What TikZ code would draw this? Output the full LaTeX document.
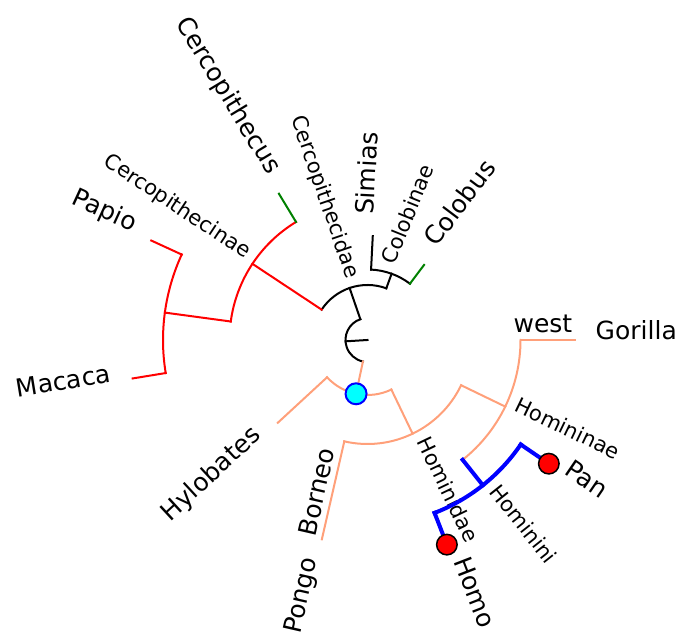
\documentclass[tikz,border=0pt]{standalone}
\usepackage{fontspec}
\setmainfont{DejaVu Sans}
\usetikzlibrary{calc}
\definecolor{salm}{RGB}{255,160,122}
\definecolor{grn}{RGB}{0,128,0}
\definecolor{cyn}{RGB}{0,255,255}
\begin{document}
\begin{tikzpicture}[x=1pt,y=1pt,
  brk/.style={line width=2pt,line cap=rect,black},
  brr/.style={line width=2pt,line cap=rect,red},
  brg/.style={line width=2pt,line cap=rect,grn},
  brs/.style={line width=2pt,line cap=rect,salm},
  brb/.style={line width=4pt,line cap=rect,blue},
  leaf/.style={font=\fontsize{25}{30}\selectfont,inner sep=0pt},
  inl/.style={font=\fontsize{21}{25}\selectfont,inner sep=0pt},
  redc/.style={circle,draw=black,fill=red,line width=1.5pt,minimum size=20.5pt,inner sep=0pt},
  cync/.style={circle,draw=blue,fill=cyn,line width=2pt,minimum size=21pt,inner sep=0pt}]
\useasboundingbox (0,0) rectangle (678,636);
\begin{scope}[shift={(367.5,296)}]
% ---- labels ----
\node[leaf,anchor=base east,rotate=-58.8] (cercopithecus) at (121.2:192) {Cercopithecus};
\node[leaf,anchor=base east,rotate=-24.7] (papio) at (155.3:259) {Papio};
\node[leaf,anchor=base east,rotate=9.3] (macaca) at (189.3:259) {Macaca};
\node[leaf,anchor=base west,rotate=87.1] (simias) at (87.1:125) {Simias};
\node[leaf,anchor=base west,rotate=53] (colobus) at (53:115) {Colobus};
\node[leaf,anchor=base east,rotate=42.7] (hylobates) at (222.7:143) {Hylobates};
\node[leaf,anchor=base east,rotate=77.1] (pongo) at (257.1:225.5) {Pongo};
\node[leaf,anchor=base west] (gorilla) at (0:228) {Gorilla};
\node[leaf,anchor=base west,rotate=-34.3] (pan) at (325.7:237) {Pan};
\node[leaf,anchor=base west,rotate=-68.8] (homo) at (291.2:237) {Homo};
\node[leaf,anchor=base east] (west) at ($(0:205)+(90:7)$) {west};
\node[leaf,anchor=base west,rotate=77.1] (borneo) at ($(257.1:204)+(167.1:7)$) {Borneo};
\node[inl,anchor=base east,rotate=-71] (cercopithecidae) at (109:64) {Cercopithecidae};
\node[inl,anchor=base west,rotate=68] (colobinae) at (70:79.5) {Colobinae};
\node[inl,anchor=base east,rotate=-33.5] (cercopithecinae) at (146.5:147) {Cercopithecinae};
\node[inl,anchor=base west,rotate=-64.3] (hominidae) at (295.7:113) {Hominidae};
\node[inl,anchor=base west,rotate=-25.8] (homininae) at (334.2:162) {Homininae};
\node[inl,anchor=base west,rotate=-51.55] (hominini) at (308.45:194.5) {Hominini};
% ---- root ----
\draw[brk] (109:22) arc[start angle=109,end angle=258,radius=22];
\draw[brk] (0,0) -- (183.5:22);
% ---- Cercopithecidae ----
\draw[brk] (109:22) -- (109:55);
\draw[brk] (70:55) arc[start angle=70,end angle=146.5,radius=55];
\draw[brk] (70:55) -- (70:70.5);
\draw[brk] (53:70.5) arc[start angle=53,end angle=87.1,radius=70.5];
\draw[brk] (87.1:70.5) -- (87.1:104);
\draw[brg] (53:70.5) -- (53:94);
\draw[brr] (146.5:55) -- (146.5:138);
\draw[brr] (121.2:138) arc[start angle=121.2,end angle=172.3,radius=138];
\draw[brg] (121.2:138) -- (121.2:171);
\draw[brr] (172.3:138) -- (172.3:204.5);
\draw[brr] (155.3:204.5) arc[start angle=155.3,end angle=189.3,radius=204.5];
\draw[brr] (155.3:204.5) -- (155.3:238);
\draw[brr] (189.3:204.5) -- (189.3:238);
% ---- Hominoidea ----
\draw[brs] (258:22) -- (258:55);
\draw[brs] (222.7:55) arc[start angle=222.7,end angle=295.7,radius=55];
\draw[brs] (222.7:55) -- (222.7:122);
\draw[brs] (295.7:55) -- (295.7:104);
\draw[brs] (257.1:104) arc[start angle=257.1,end angle=334.2,radius=104];
\draw[brs] (257.1:104) -- (257.1:204.5);
\draw[brs] (334.2:104) -- (334.2:153);
\draw[brs] (308.45:153) arc[start angle=308.45,end angle=360,radius=153];
\draw[brs] (0:153) -- (0:207);
\draw[brb] (308.45:153) -- (308.45:185.5);
\draw[brb] (291.2:185.5) arc[start angle=291.2,end angle=325.7,radius=185.5];
\draw[brb] (325.7:185.5) -- (325.7:219.5);
\draw[brb] (291.2:185.5) -- (291.2:219.5);
% ---- node shapes ----
\node[redc] (panc) at (325.7:219.5) {};
\node[redc] (homoc) at (291.2:219.5) {};
\node[cync] (hominoidea) at (258:55) {};
\end{scope}
\end{tikzpicture}
\end{document}
